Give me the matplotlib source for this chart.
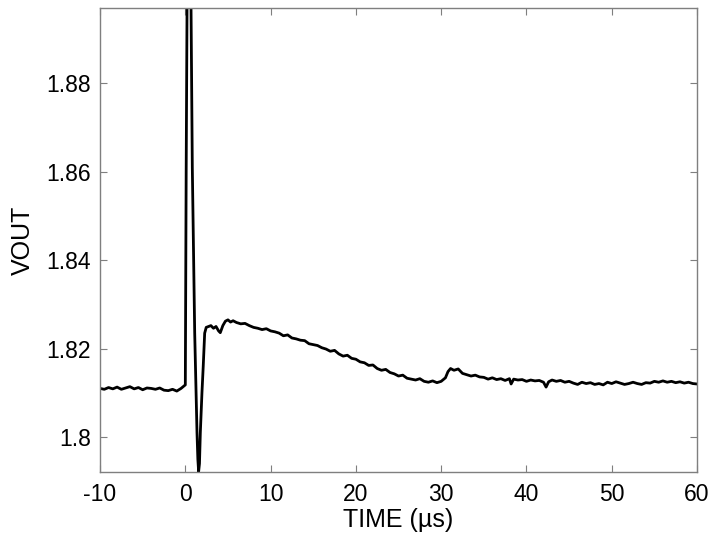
import matplotlib
matplotlib.use("Agg")
import matplotlib.pyplot as plt

# scope trace (time in us, VOUT in V)
time_us = [
    -10.0, -9.5, -9.0, -8.5, -8.0, -7.5, -7.0, -6.5, -6.0, -5.5,
    -5.0, -4.5, -4.0, -3.5, -3.0, -2.5, -2.0, -1.5, -1.0, -0.5,
    0.0, 0.05, 0.1, 0.2, 0.35, 0.45, 0.55, 0.67, 0.82, 0.98,
    1.1, 1.25, 1.37, 1.47, 1.56, 1.66, 1.76, 1.95, 2.1, 2.27,
    2.45, 2.73, 3.0, 3.3, 3.6, 3.9, 4.1, 4.4, 4.7, 5.0,
    5.3, 5.6, 6.0, 6.5, 7.0, 7.5, 8.0, 8.5, 9.0, 9.5,
    10.0, 10.5, 11.0, 11.5, 12.0, 12.5, 13.0, 13.5, 14.0, 14.5,
    15.0, 15.5, 16.0, 16.5, 17.0, 17.5, 18.0, 18.5, 19.0, 19.5,
    20.0, 20.5, 21.0, 21.5, 22.0, 22.5, 23.0, 23.5, 24.0, 24.5,
    25.0, 25.5, 26.0, 26.5, 27.0, 27.5, 28.0, 28.5, 29.0, 29.5,
    30.0, 30.5, 30.8, 31.1, 31.5, 32.0, 32.5, 33.0, 33.5, 34.0,
    34.5, 35.0, 35.5, 36.0, 36.5, 37.0, 37.5, 38.0, 38.2, 38.5,
    39.0, 39.5, 40.0, 40.5, 41.0, 41.5, 42.0, 42.3, 42.6, 43.0,
    43.5, 44.0, 44.5, 45.0, 45.5, 46.0, 46.5, 47.0, 47.5, 48.0,
    48.5, 49.0, 49.5, 50.0, 50.5, 51.0, 51.5, 52.0, 52.5, 53.0,
    53.5, 54.0, 54.5, 55.0, 55.5, 56.0, 56.5, 57.0, 57.5, 58.0,
    58.5, 59.0, 59.5, 60.0,
]
vout = [
    1.8110, 1.8108, 1.8112, 1.8109, 1.8113, 1.8108, 1.8111, 1.8114, 1.8109, 1.8112,
    1.8107, 1.8111, 1.8110, 1.8108, 1.8111, 1.8106, 1.8105, 1.8108, 1.8104, 1.8110,
    1.8118, 1.8350, 1.8600, 1.8970, 1.9400, 1.9450, 1.9250, 1.8970, 1.8610, 1.8400,
    1.8235, 1.8110, 1.8010, 1.7950, 1.7922, 1.7940, 1.8010, 1.8100, 1.8160, 1.8235,
    1.8248, 1.8250, 1.8252, 1.8246, 1.8250, 1.8240, 1.8236, 1.8252, 1.8262, 1.8265,
    1.8260, 1.8263, 1.8259, 1.8256, 1.8257, 1.8252, 1.8248, 1.8246, 1.8243, 1.8245,
    1.8240, 1.8238, 1.8235, 1.8229, 1.8231, 1.8224, 1.8222, 1.8219, 1.8218, 1.8211,
    1.8209, 1.8207, 1.8202, 1.8199, 1.8194, 1.8196, 1.8188, 1.8183, 1.8185, 1.8178,
    1.8176, 1.8170, 1.8168, 1.8162, 1.8163, 1.8155, 1.8151, 1.8153, 1.8146, 1.8143,
    1.8138, 1.8140, 1.8133, 1.8131, 1.8129, 1.8132, 1.8126, 1.8124, 1.8127, 1.8123,
    1.8126, 1.8134, 1.8148, 1.8155, 1.8151, 1.8154, 1.8144, 1.8141, 1.8138, 1.8140,
    1.8136, 1.8135, 1.8131, 1.8134, 1.8130, 1.8132, 1.8128, 1.8132, 1.8120, 1.8131,
    1.8129, 1.8130, 1.8126, 1.8129, 1.8127, 1.8128, 1.8124, 1.8113, 1.8125, 1.8129,
    1.8126, 1.8128, 1.8124, 1.8126, 1.8122, 1.8119, 1.8124, 1.8121, 1.8123, 1.8119,
    1.8121, 1.8118, 1.8124, 1.8121, 1.8125, 1.8122, 1.8119, 1.8121, 1.8124, 1.8121,
    1.8119, 1.8123, 1.8122, 1.8126, 1.8124, 1.8127, 1.8124, 1.8126, 1.8123, 1.8125,
    1.8122, 1.8124, 1.8121, 1.8120,
]

x_ticks = [-10, 0, 10, 20, 30, 40, 50, 60]
y_ticks = [1.80, 1.82, 1.84, 1.86, 1.88]
y_tick_labels = ["1.8", "1.82", "1.84", "1.86", "1.88"]

plt.rcParams['font.family'] = ['Liberation Sans', 'DejaVu Sans']

fig = plt.figure(figsize=(7.13, 5.33), dpi=100)
ax = fig.add_axes([0.1403, 0.1144, 0.8373, 0.8706])

ax.plot(time_us, vout, color='black', linewidth=2.0)

ax.set_xlim(-10, 60)
ax.set_ylim(1.7921, 1.897)
ax.set_xticks(x_ticks)
ax.set_xticklabels([str(t) for t in x_ticks])
ax.set_yticks(y_ticks)
ax.set_yticklabels(y_tick_labels)

for s in ax.spines.values():
    s.set_color('#7f7f7f')
    s.set_linewidth(1.0)
ax.tick_params(direction='in', length=5, width=0.8, color='#7f7f7f',
               top=True, right=True, labelsize=16.5)
ax.tick_params(axis='x', pad=8)
ax.tick_params(axis='y', pad=6.5)

ax.set_xlabel("TIME (µs)", fontsize=18, labelpad=1.5)
ax.set_ylabel("VOUT", fontsize=18, labelpad=8.3)

fig.savefig("out.png", dpi=100)
